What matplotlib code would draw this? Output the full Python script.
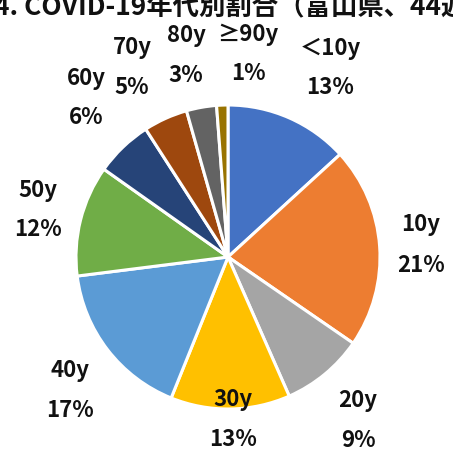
import matplotlib
matplotlib.use("Agg")
import matplotlib.pyplot as plt

plt.rcParams['font.family'] = ['Noto Sans CJK JP', 'DejaVu Sans']

categories = ['＜10y', '10y', '20y', '30y', '40y', '50y', '60y', '70y', '80y', '≥90y']
values = [13.2, 21.4, 8.8, 12.7, 16.9, 11.8, 6.1, 4.7, 3.2, 1.2]
colors = ['#4472C4', '#ED7D31', '#A5A5A5', '#FFC000', '#5B9BD5',
          '#70AD47', '#264478', '#9E480E', '#636363', '#997300']
title = '4. COVID-19年代別割合（富山県、44週まで）'

W, H = 453, 456
fig = plt.figure(figsize=(W / 100, H / 100), dpi=100)
ax = fig.add_axes([0, 0, 1, 1])

cx, cy, r = 228, H - 258, 152
ax.pie(values, colors=colors, startangle=90, counterclock=False,
       center=(cx, cy), radius=r,
       wedgeprops=dict(edgecolor='white', linewidth=2.2))

# label block centres (pixel coords from top-left)
label_pos = [(330, 68), (421, 245), (358, 421), (233, 420), (70, 391),
             (38, 210), (86, 98), (132, 67), (186, 55), (248, 54)]
total = sum(values)
for cat, v, (px, py) in zip(categories, values, label_pos):
    y = H - py
    ax.text(px, y + 20, cat, ha='center', va='center', fontsize=16,
            fontweight='bold', color='#111111')
    ax.text(px, y - 20, f'{round(v / total * 100)}%', ha='center', va='center',
            fontsize=16, fontweight='bold', color='#111111')

ax.text(-6, H - 15, title, ha='left', va='baseline', fontsize=19,
        fontweight='bold', color='#111111')

ax.set_xlim(0, W)
ax.set_ylim(0, H)
ax.set_axis_off()
fig.savefig('out.png', dpi=100)
